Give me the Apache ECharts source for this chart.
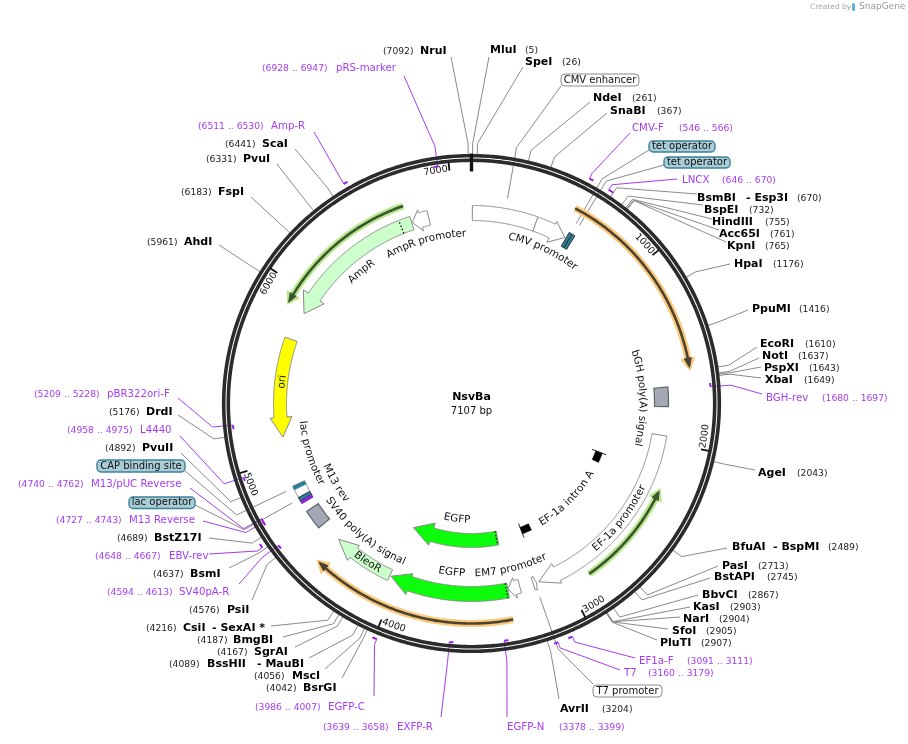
<!DOCTYPE html>
<html>
<head>
<meta charset="utf-8">
<title>NsvBa</title>
<style>
  html, body { margin: 0; padding: 0; background: #fff; }
  #chart { width: 908px; height: 744px; }
</style>
<script src="https://cdn.jsdelivr.net/npm/echarts@6/dist/echarts.min.js"></script>
</head>
<body>
<div id="chart"></div>
<script>
// plasmid
const plasmidName = "NsvBa";
const plasmidLength = 7107;
const tickValues = [1000, 2000, 3000, 4000, 5000, 6000, 7000];

// restriction sites
const siteNames = ["NruI", "MluI", "SpeI", "NdeI", "SnaBI", "BsmBI", "BspEI", "HindIII", "Acc65I", "KpnI", "HpaI", "PpuMI", "EcoRI", "NotI", "PspXI", "XbaI", "AgeI", "BfuAI", "PasI", "BstAPI", "BbvCI", "KasI", "NarI", "SfoI", "PluTI", "AvrII", "BsrGI", "MscI", "BssHII", "SgrAI", "BmgBI", "CsiI", "PsiI", "BsmI", "BstZ17I", "PvuII", "DrdI", "AhdI", "FspI", "PvuI", "ScaI"];
const sitePositions = [7092, 5, 26, 261, 367, 670, 732, 755, 761, 765, 1176, 1416, 1610, 1637, 1643, 1649, 2043, 2489, 2713, 2745, 2867, 2903, 2904, 2905, 2907, 3204, 4042, 4056, 4089, 4167, 4187, 4216, 4576, 4637, 4689, 4892, 5176, 5961, 6183, 6331, 6441];
const siteIsoschizomers = { BsmBI: "Esp3I", BfuAI: "BspMI", BssHII: "MauBI", CsiI: "SexAI *" };

// primers
const primerNames = ["pRS-marker", "Amp-R", "CMV-F", "LNCX", "BGH-rev", "EF1a-F", "T7", "EGFP-N", "EXFP-R", "EGFP-C", "SV40pA-R", "EBV-rev", "M13 Reverse", "M13/pUC Reverse", "L4440", "pBR322ori-F"];
const primerStarts = [6928, 6511, 546, 646, 1680, 3091, 3160, 3378, 3639, 3986, 4594, 4648, 4727, 4740, 4958, 5209];
const primerEnds = [6947, 6530, 566, 670, 1697, 3111, 3179, 3399, 3658, 4007, 4613, 4667, 4743, 4762, 4975, 5228];
const primerStrands = [-1, 1, 1, 1, -1, 1, 1, -1, -1, 1, -1, 1, -1, -1, -1, -1];

// boxed feature labels
const boxNames = ["CMV enhancer", "tet operator", "tet operator", "CAP binding site", "lac operator", "T7 promoter"];
const boxPositions = [197, 596, 616, 4829, 4757, 3170];
const boxPlain = [true, false, false, false, false, true];

// arrow features: start, where the head begins, tip
const arrowNames = ["CMV promoter", "AmpR", "AmpR promoter", "ori", "BleoR", "EGFP", "EGFP", "EM7 promoter", "EF-1a promoter", "T7 promoter"];
const arrowStarts = [387, 6746, 6851, 5717, 4055, 3335, 3338, 3262, 1964, 3181];
const arrowHeads = [495, 6003, 6800, 5248, 4310, 3928, 3886, 3291, 3028, 3170];
const arrowTips = [580, 5887, 6750, 5131, 4430, 4047, 4049, 3334, 3145, 3160];

// block features
const blockNames = ["CMV enhancer", "bGH poly(A) signal", "SV40 poly(A) signal", "tet operator", "tet operator", "lac promoter", "CAP binding site", "lac operator", "M13 rev"];
const blockStarts = [5, 1682, 4558, 587, 606, 4745, 4818, 4745, 4727];
const blockEnds = [387, 1795, 4675, 606, 625, 4835, 4840, 4767, 4743];

// EF-1a intron A exon ends
const intronStarts = [2188, 3053];
const intronEnds = [2268, 3131];

// open reading frame arcs
const orfStarts = [552, 6730, 2870, 3338];
const orfTips = [1592, 5903, 2271, 4420];

// dotted boundaries inside features
const dottedPositions = [6679, 3345, 3348];

// feature names written along the circle
const arcLabelNames = ["CMV promoter", "AmpR promoter", "AmpR", "ori", "lac promoter", "M13 rev", "SV40 poly(A) signal", "BleoR", "EGFP", "EGFP", "EM7 promoter", "EF-1a intron A", "EF-1a promoter", "bGH poly(A) signal"];
const arcLabelPositions = [494, 6795, 6321, 5459, 4993, 4732, 4337, 4209, 3695, 3685, 3287, 2665, 2523, 1740];

// ---- layout, not data ----
// site: nameX, y, positionX, lineEndX, lineEndY, isoschizomerX
const siteLayout = [[420,51,383,451,57],[490,50,525,489,57],[525,62,562,523,67],[593,98,632,590,102],[610,111,657,607,113],[697,198,797,697,194,746],[704,210,749,703,205],[712,222,765,712,219],[719,234,770,719,230],[727,246,765,726,242],[734,264,773,730,264],[752,309,799,748,310],[760,344,805,757,347],[762,356,798,759,358],[764,368,809,761,367],[765,380,804,761,378],[758,473,797,755,470],[732,547,828,727,548,773],[722,566,758,718,566],[714,577,767,710,578],[702,595,748,698,595],[693,607,730,690,607],[683,619,719,680,617],[672,631,706,668,629],[660,643,701,657,640],[560,709,602,559,699],[303,688,266,342,678],[292,676,254,325,669],[207,664,169,309,658,257],[254,652,217,295,647],[233,640,197,283,637],[183,628,146,271,626,212],[227,610,189,252,600],[190,574,153,229,568],[154,538,117,209,538],[142,448,105,181,453],[146,412,109,178,415],[184,242,147,219,245],[218,192,181,251,197],[243,159,206,277,164],[262,144,225,295,149]];
// primer: nameX, y, rangeX, lineEndX, lineEndY
const primerLayout = [[336,68,262,404,76],[271,126,198,314,132],[632,128,679,630,133],[682,180,722,677,179],[766,398,822,762,394],[639,661,687,635,658],[624,673,648,620,670],[507,727,559,507,717],[397,727,323,441,717],[328,707,255,374,696],[179,592,107,239,584],[169,556,95,209,554],[129,520,56,203,521],[91,484,18,190,488],[140,430,67,180,436],[107,394,34,178,398]];
// box: x, y, w, h, lineEndX, lineEndY, innerRadius
const boxLayout = [[561,74,78,12,561,86,208],[649,141,66,11,649,150,208],[664,157,66,11,664,165,208],[97,460,88,12,184,470,205],[129,497,66,11.5,195,505,205],[593,685,69,12,593,684,205]];
// arrow: fill, stroke, rIn, rOut, headIn, headOut
const GREEN = "#ccffcc", WHITE = "#ffffff", LINE = "#8a8a8a";
const arrowLayout = [[WHITE,LINE,183,198,178,201],[GREEN,LINE,183,197,178,203],[WHITE,LINE,183,198,179,201],["#ffff00",LINE,185,198,180,202],[GREEN,LINE,184,196,181,200],["#0cfc0c",LINE,183,198,180,202],["#0cfc0c",LINE,130,144,125,148],[WHITE,LINE,182,196,179,200],[WHITE,LINE,183,198,179,201],[WHITE,LINE,184,197,183,198]];
const TEAL = "#2f7f93", GRAY = "#a2a9b4";
// block: fill, stroke, rIn, rOut
const blockLayout = [[WHITE,LINE,183,198],[GRAY,"#5f646b",183,197],[GRAY,"#5f646b",183,197],[TEAL,"#23303a",181,197],[TEAL,"#23303a",181,197],[WHITE,LINE,184,197],[TEAL,"#4d8799",184,197],[TEAL,"#23303a",184,197],["#8a22d8","#8a22d8",184,197]];
// orf: halo colour, dark colour, radius
const orfLayout = [["#fcc97a","#4a4334",221],["#b9e88c","#3a5530",209],["#b9e88c","#3a5530",207],["#fcc97a","#4a4334",220]];
// dotted: rIn, rOut
const dottedLayout = [[183,197],[183,198],[130,144]];
const arcLabelRadii = [171, 170, 172, 190.5, 170, 158, 172, 190, 116.5, 170, 170, 138, 190.5, 171];

const FONT = '"DejaVu Sans"';
const PURPLE = "#a63cf0";
const RING_OUT = 247.8, RING_IN = 243.2, ELBOW = 260;
const measure = document.createElement("canvas").getContext("2d");

function pt(api, r, bp) {
  return api.coord([r, bp]).slice(0, 2);
}

function arc(api, r, a, b, step) {
  const n = Math.max(2, Math.ceil(Math.abs(b - a) / (step || 8)));
  const pts = [];
  for (let i = 0; i <= n; i++) pts.push(pt(api, r, a + (b - a) * i / n));
  return pts;
}

function line(points, stroke, width, dash) {
  return { type: "polyline", shape: { points: points }, style: { stroke: stroke, lineWidth: width, fill: null, lineDash: dash || null } };
}

function poly(points, fill, stroke, width) {
  return { type: "polygon", shape: { points: points }, style: { fill: fill, stroke: stroke, lineWidth: width === undefined ? 1 : width } };
}

function text(str, x, y, size, fill, weight, align) {
  return {
    type: "text",
    style: { text: str, x: x, y: y, fill: fill, fontFamily: FONT, fontSize: size, fontWeight: weight || "normal", align: align || "left", verticalAlign: "middle" }
  };
}

// letters are set one by one so the words bend with the circle
function arcText(api, str, bp, r, size, fill) {
  const lower = bp > plasmidLength / 4 && bp < plasmidLength * 3 / 4;
  const dir = lower ? -1 : 1;
  const bpPerPx = plasmidLength / (2 * Math.PI * r);
  measure.font = size + "px " + FONT;
  let cursor = -measure.measureText(str).width / 2;
  const out = [];
  for (const ch of str) {
    const w = measure.measureText(ch).width;
    const at = bp + dir * (cursor + w / 2) * bpPerPx;
    const p = pt(api, r, at);
    const deg = at / plasmidLength * 360 - (lower ? 180 : 0);
    out.push({
      type: "text", x: p[0], y: p[1], rotation: -deg * Math.PI / 180,
      style: { text: ch, fill: fill, fontFamily: FONT, fontSize: size, align: "center", verticalAlign: "middle" }
    });
    cursor += w;
  }
  return out;
}

function layer(z, values, build) {
  return {
    type: "custom", coordinateSystem: "polar", z: z, silent: true, animation: false, clip: false,
    encode: { radius: 0, angle: 1 },
    data: values.map(v => [RING_OUT, v]),
    renderItem: function (params, api) {
      return { type: "group", children: build(params.dataIndex, api) };
    }
  };
}

const series = [
  // connectors run under the ring
  layer(1, sitePositions, (i, api) => {
    const l = siteLayout[i], bp = sitePositions[i];
    return [line([pt(api, RING_OUT, bp), pt(api, ELBOW, bp), [l[3], l[4]]], LINE, 1)];
  }),
  layer(1, boxPositions, (i, api) => {
    const l = boxLayout[i], bp = boxPositions[i];
    return [line([pt(api, l[6], bp), pt(api, ELBOW, bp), [l[4], l[5]]], LINE, 1)];
  }),
  layer(1, primerStarts, (i, api) => {
    const l = primerLayout[i], out = primerStrands[i] > 0;
    const bp = out ? primerStarts[i] : primerEnds[i];
    return [line([pt(api, out ? 254 : 239.5, bp), pt(api, ELBOW, bp), [l[3], l[4]]], PURPLE, 1)];
  }),

  // backbone
  layer(2, [0], (i, api) => [
    line(arc(api, RING_OUT, 0, plasmidLength, 10), "#2b2b2b", 3.6),
    line(arc(api, RING_IN, 0, plasmidLength, 10), "#2b2b2b", 3.6),
    line([pt(api, 250, 0), pt(api, 232, 0)], "#111", 3.4)
  ]),
  layer(3, tickValues, (i, api) => {
    const bp = tickValues[i];
    return [line([pt(api, 242, bp), pt(api, 234, bp)], "#111", 1.8)].concat(arcText(api, String(bp), bp - 66, 235.5, 9.5, "#111"));
  }),

  // primer marks
  layer(4, primerStarts, (i, api) => {
    const r = primerStrands[i] > 0 ? 254 : 239.5;
    return [line(arc(api, r, primerStarts[i], primerEnds[i], 2), "#9a20e8", 2)];
  }),

  // reading frame arcs
  layer(4, orfStarts, (i, api) => {
    const l = orfLayout[i], s = orfStarts[i], t = orfTips[i], r = l[2];
    const back = t + (s > t ? 1 : -1) * 48;
    const mid = t + (s > t ? 1 : -1) * 12;
    const overshoot = t - (s > t ? 1 : -1) * 14;
    return [
      line(arc(api, r, s, back), l[0], 7),
      poly([pt(api, r + 7, back), pt(api, r, overshoot), pt(api, r - 7, back)], l[0], l[0]),
      line(arc(api, r, s, mid), l[1], 2.6),
      poly([pt(api, r + 3.5, back), pt(api, r, t), pt(api, r - 3.5, back)], l[1], l[1])
    ];
  }),

  // features
  layer(5, blockStarts, (i, api) => {
    const l = blockLayout[i];
    const pts = arc(api, l[3], blockStarts[i], blockEnds[i], 4).concat(arc(api, l[2], blockEnds[i], blockStarts[i], 4));
    return [poly(pts, l[0], l[1], l[0] === GRAY ? 1.2 : 1)];
  }),
  layer(5, arrowStarts, (i, api) => {
    const l = arrowLayout[i], s = arrowStarts[i], h = arrowHeads[i], t = arrowTips[i];
    const pts = arc(api, l[3], s, h, 4);
    pts.push(pt(api, l[5], h), pt(api, (l[2] + l[3]) / 2, t), pt(api, l[4], h));
    return [poly(pts.concat(arc(api, l[2], h, s, 4)), l[0], l[1])];
  }),
  layer(6, dottedPositions, (i, api) => {
    const l = dottedLayout[i], bp = dottedPositions[i];
    return [line([pt(api, l[0], bp), pt(api, l[1], bp)], "#111", 1.2, [1.5, 2])];
  }),
  layer(6, intronStarts, (i, api) => {
    const a = intronStarts[i], b = intronEnds[i];
    const edge = i === 0 ? a : b;
    return [
      poly(arc(api, 140, a, b, 4).concat(arc(api, 133, b, a, 4)), "#000", "#000", 0.5),
      line([pt(api, 129, edge), pt(api, 144, edge)], "#222", 1)
    ];
  }),

  // text
  layer(7, arcLabelPositions, (i, api) => arcText(api, arcLabelNames[i], arcLabelPositions[i], arcLabelRadii[i], 10.4, "#111")),
  layer(8, sitePositions, (i, api) => {
    const l = siteLayout[i], name = siteNames[i];
    const els = [
      text(name, l[0], l[1], 11, "#000", "bold"),
      text("(" + sitePositions[i] + ")", l[2], l[1] + 0.5, 9.2, "#222")
    ];
    if (siteIsoschizomers[name]) els.push(text("- " + siteIsoschizomers[name], l[5], l[1], 11, "#000", "bold"));
    return els;
  }),
  layer(8, primerStarts, (i, api) => {
    const l = primerLayout[i];
    return [
      text(primerNames[i], l[0], l[1], 10.2, PURPLE),
      text("(" + primerStarts[i] + " .. " + primerEnds[i] + ")", l[2], l[1] + 0.5, 9.2, PURPLE)
    ];
  }),
  layer(8, boxPositions, (i, api) => {
    const l = boxLayout[i], plain = boxPlain[i];
    return [
      {
        type: "rect", shape: { x: l[0], y: l[1], width: l[2], height: l[3], r: 4 },
        style: { fill: plain ? "#fff" : "#a9ccd6", stroke: plain ? "#8a8a8a" : "#3b8398", lineWidth: plain ? 1 : 1.4 }
      },
      text(boxNames[i], l[0] + l[2] / 2, l[1] + l[3] / 2, 10, "#111", "normal", "center")
    ];
  }),
  layer(8, [0], (i, api) => {
    const c = pt(api, 0, 0);
    return [
      text(plasmidName, c[0], c[1] - 6, 11, "#000", "bold", "center"),
      text(plasmidLength + " bp", c[0], c[1] + 7.5, 10, "#111", "normal", "center")
    ];
  })
];

const chart = echarts.init(document.getElementById("chart"), null, { renderer: "canvas" });
chart.setOption({
  backgroundColor: "#ffffff",
  animation: false,
  polar: { center: [471.5, 403.5], radius: 280 },
  radiusAxis: { type: "value", min: 0, max: 280, show: false },
  angleAxis: { type: "value", min: 0, max: plasmidLength, startAngle: 90, clockwise: true, show: false },
  tooltip: { show: false },
  graphic: [
    { type: "text", x: 810, y: 3, style: { text: "Created by", fill: "#a8a8a8", fontFamily: FONT, fontSize: 7.5 } },
    { type: "rect", shape: { x: 852, y: 3, width: 3, height: 8, r: 1.5 }, style: { fill: "#5bb4e5" } },
    { type: "text", x: 859, y: 2, style: { text: "SnapGene", fill: "#9a9a9a", fontFamily: FONT, fontSize: 9 } }
  ],
  series: series
});
window.addEventListener("resize", () => chart.resize());
</script>
</body>
</html>
